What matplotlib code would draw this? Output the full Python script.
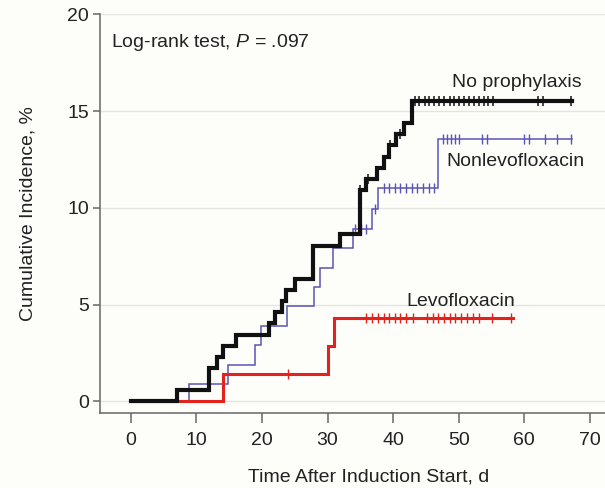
import matplotlib
matplotlib.use('Agg')
import matplotlib.pyplot as plt
import numpy as np

plt.rcParams['font.family'] = ['Liberation Sans', 'DejaVu Sans']
plt.rcParams['mathtext.fontset'] = 'custom'
plt.rcParams['mathtext.rm'] = 'Liberation Sans'
plt.rcParams['mathtext.it'] = 'Liberation Sans:italic'

# cumulative incidence step curves (time in days, incidence in %)
noproph_t = [0, 7.0, 11.9, 13.1, 14.0, 16.0, 21.1, 22.0, 23.0, 23.7, 25.0, 27.8,
             31.9, 35.0, 35.8, 37.6, 38.6, 39.4, 40.5, 41.6, 42.9]
noproph_y = [0, 0.58, 1.73, 2.30, 2.88, 3.45, 4.03, 4.60, 5.18, 5.75, 6.33, 8.05,
             8.63, 10.93, 11.50, 12.08, 12.65, 13.23, 13.80, 14.38, 15.53]
noproph_end = 67.3
noproph_cens = [35.0, 36.2, 39.5, 41.0, 43.3, 44.0, 44.8, 45.5, 46.3, 47.0, 47.8,
                48.6, 49.3, 50.1, 50.8, 51.6, 52.4, 53.1, 53.9, 54.5, 55.2,
                62.1, 62.9, 67.1]

nonlevo_t = [0, 8.9, 14.8, 18.9, 19.9, 23.8, 28.0, 28.8, 30.9, 33.9, 36.7, 37.7, 46.9]
nonlevo_y = [0, 0.90, 1.88, 2.93, 3.90, 4.91, 5.92, 6.90, 7.95, 8.90, 9.92, 11.05, 13.55]
nonlevo_end = 67.3
nonlevo_cens = [34.2, 35.1, 35.9, 37.2, 38.6, 39.4, 40.3, 41.1, 42.0, 42.8, 43.7,
                44.6, 45.5, 46.3, 47.6, 48.2, 48.8, 49.4, 50.0, 53.6, 54.3,
                60.0, 60.7, 63.1, 65.0, 67.1]

levo_t = [0, 14.0, 30.1, 31.0]
levo_y = [0, 1.44, 2.88, 4.32]
levo_end = 58.3
levo_cens = [24.0, 35.9, 36.8, 37.7, 38.6, 39.4, 40.3, 41.1, 42.0, 43.0, 45.1,
             46.0, 46.9, 47.7, 48.6, 49.4, 50.3, 51.2, 52.1, 53.1, 55.0, 57.9]

x_ticks = [0, 10, 20, 30, 40, 50, 60, 70]
y_ticks = [0, 5, 10, 15, 20]

bg = '#fdfdfa'
fig = plt.figure(figsize=(6.05, 4.88), dpi=100, facecolor=bg)
ax = fig.add_axes([100 / 605, 75 / 488, 505 / 605, 399 / 488], facecolor=bg)


def draw_curve(times, values, end, cens, color, lw, mew):
    t = list(times) + [end]
    y = list(values) + [values[-1]]
    ax.step(t, y, where='post', color=color, lw=lw, solid_joinstyle='miter', zorder=3)
    # censor marks sit on the curve value at that time
    idx = np.searchsorted(times, cens, side='right') - 1
    cy = np.asarray(values)[idx]
    ax.plot(cens, cy, ls='none', marker='|', ms=7.5, mew=mew, color=color, zorder=3)


draw_curve(nonlevo_t, nonlevo_y, nonlevo_end, nonlevo_cens, '#5a54b4', 1.1, 1.0)
draw_curve(levo_t, levo_y, levo_end, levo_cens, '#e3221e', 2.2, 1.0)
draw_curve(noproph_t, noproph_y, noproph_end, noproph_cens, '#111111', 3.0, 1.1)

ax.set_xlim(-4.7, 72.3)
ax.set_ylim(-0.6, 20.02)
ax.set_xticks(x_ticks)
ax.set_yticks(y_ticks)
ax.yaxis.grid(True, color='#e4e4e0', lw=1.0, zorder=0)
ax.set_axisbelow(True)

for side in ['top', 'right']:
    ax.spines[side].set_visible(False)
for side in ['left', 'bottom']:
    ax.spines[side].set_color('#666666')
    ax.spines[side].set_linewidth(1.1)

ax.tick_params(axis='x', length=7, width=1.1, color='#666666', pad=7,
               labelsize=14, labelcolor='#222222')
ax.tick_params(axis='y', length=5, width=1.1, color='#666666', pad=3,
               labelsize=14, labelcolor='#222222')

ax.set_xlabel('Time After Induction Start, d', fontsize=14, color='#222222')
ax.xaxis.set_label_coords(0.531, -0.14)
ax.xaxis.label.set_va('top')
ax.set_ylabel('Cumulative Incidence, %', fontsize=14, color='#222222')
ax.yaxis.set_label_coords(-0.125, 0.5)

ax.text(-3.05, 18.3, r'Log-rank test, $P$ = .097', fontsize=14, color='#222222', va='baseline')
ax.text(48.95, 16.23, 'No prophylaxis', fontsize=14, color='#222222', va='baseline')
ax.text(48.15, 12.15, 'Nonlevofloxacin', fontsize=14, color='#222222', va='baseline')
ax.text(41.94, 4.95, 'Levofloxacin', fontsize=14, color='#222222', va='baseline')

fig.savefig('out.png', dpi=100, facecolor=bg)
